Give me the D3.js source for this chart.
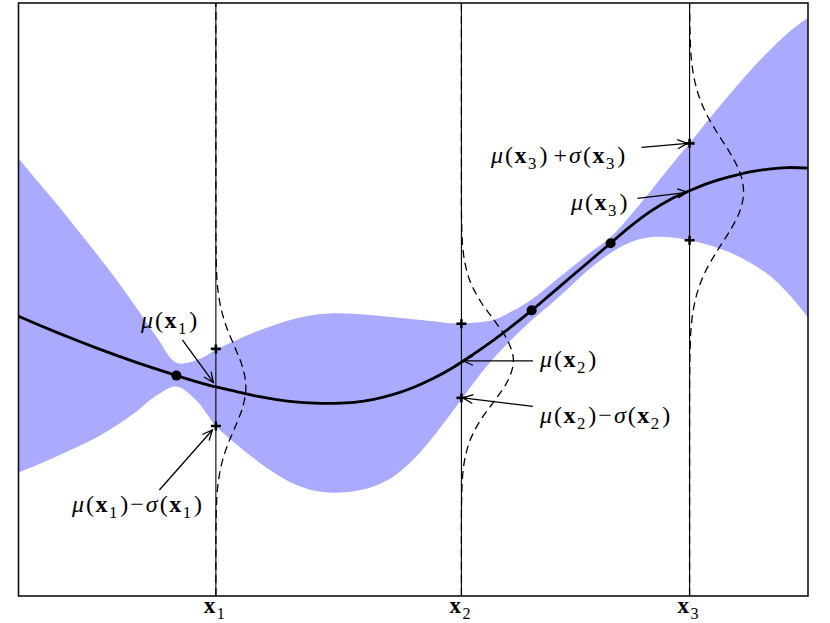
<!DOCTYPE html>
<meta charset="utf-8">
<style>
body{ margin:0; background:#fff; }
text{ font-family: "Liberation Serif", "DejaVu Serif", serif; }
</style>
<body>
<div id="chart"></div>
<script src="https://d3js.org/d3.v7.min.js" charset="utf-8"></script>
<script>
// GP posterior: mean, +/- one sigma band, three query points with their predictive densities

var width = 830, height = 623;
var frame = {left: 18.5, top: 3, right: 808, bottom: 596};

// sample grid (x) and the curves
var gridX = [0,0.25,0.5,0.75,1,1.25,1.5,1.75,2,2.25,2.5,2.75,3,3.25,3.5,3.75,4,4.25,4.5,4.75,5,
             5.25,5.5,5.75,6,6.25,6.5,6.75,7,7.25,7.5,7.75,8,8.25,8.5,8.75,9,9.25,9.5,9.75,10];
var meanY  = [2.83,2.745,2.662,2.582,2.505,2.432,2.362,2.295,2.23,2.17,2.115,2.07,2.025,1.99,1.965,1.952,1.95,1.96,1.99,2.04,2.11,
              2.20,2.31,2.44,2.58,2.73,2.89,3.06,3.23,3.40,3.57,3.74,3.89,4.01,4.10,4.18,4.24,4.29,4.32,4.335,4.33];
var upperY = [4.43,4.19,3.95,3.70,3.45,3.19,2.91,2.62,2.36,2.385,2.49,2.585,2.67,2.745,2.805,2.845,2.86,2.855,2.84,2.82,2.80,
              2.78,2.76,2.765,2.79,2.88,3.00,3.16,3.32,3.48,3.63,3.85,4.09,4.34,4.58,4.83,5.07,5.30,5.51,5.70,5.85];
var lowerY = [1.25,1.33,1.42,1.51,1.61,1.73,1.87,2.03,2.12,1.98,1.72,1.54,1.38,1.24,1.13,1.065,1.045,1.06,1.11,1.21,1.38,
              1.61,1.87,2.14,2.39,2.60,2.79,2.96,3.14,3.32,3.47,3.58,3.63,3.63,3.60,3.55,3.48,3.38,3.25,3.06,2.82];

// observed points
var obsX = [2.0, 6.5, 7.5];
var obsY = [2.23, 2.89, 3.57];

// query points x1, x2, x3
var queryX     = [2.5, 5.61, 8.5];
var queryMean  = [2.11, 2.38, 4.09];
var querySigma = [0.39, 0.375, 0.49];
var queryNames = ["1", "2", "3"];

// dashed densities: horizontal offset at (mean + dy)
var densityDy = [-2.0,-1.8,-1.6,-1.4,-1.2,-1.0,-0.8,-0.6,-0.4,-0.2,0,0.2,0.4,0.6,0.8,1.0,1.2,1.4,1.6,1.8,2.0];
var density1 = [0,0,0,0.002,0.007,0.024,0.065,0.140,0.244,0.340,0.380,0.340,0.244,0.140,0.065,0.024,0.007,0.002,0,0,0];
var density2 = [0,0,0,0.003,0.012,0.042,0.112,0.243,0.424,0.589,0.659,0.589,0.424,0.243,0.112,0.042,0.012,0.003,0,0,0];
var density3 = [0,0.002,0.006,0.017,0.046,0.105,0.205,0.348,0.507,0.635,0.684,0.635,0.507,0.348,0.205,0.105,0.046,0.017,0.006,0.002,0];
var densities = [density1, density2, density3];

var x = d3.scaleLinear().domain([0, 10]).range([frame.left, frame.right]);
var y = d3.scaleLinear().domain([0, 6]).range([frame.bottom, frame.top]);

var svg = d3.select("#chart").append("svg")
	.attr("width", width).attr("height", height);

var defs = svg.append("defs");
defs.append("clipPath").attr("id", "clip")
	.append("rect")
	.attr("x", frame.left).attr("y", frame.top)
	.attr("width", frame.right - frame.left).attr("height", frame.bottom - frame.top);
defs.append("marker")
	.attr("id", "arrow")
	.attr("markerUnits", "userSpaceOnUse")
	.attr("viewBox", "-12 -7 14 14")
	.attr("markerWidth", 14).attr("markerHeight", 14)
	.attr("refX", 0).attr("refY", 0)
	.attr("orient", "auto")
	.append("path")
	.attr("d", "M-10,-4.5L0,0L-10,4.5")
	.attr("fill", "none").attr("stroke", "#000").attr("stroke-width", 1.3);

var plot = svg.append("g").attr("clip-path", "url(#clip)");

var rows = gridX.map(function(d, i){ return {x: d, m: meanY[i], lo: lowerY[i], hi: upperY[i]}; });

// band
plot.append("path")
	.datum(rows)
	.attr("fill", "#aaaaff")
	.attr("d", d3.area()
		.x(function(d){ return x(d.x); })
		.y0(function(d){ return y(d.lo); })
		.y1(function(d){ return y(d.hi); })
		.curve(d3.curveCatmullRom.alpha(0.5)));

// vertical lines at query points
plot.selectAll(".vline")
	.data(queryX).enter().append("line")
	.attr("class", "vline")
	.attr("x1", function(d){ return x(d); }).attr("x2", function(d){ return x(d); })
	.attr("y1", y(6)).attr("y2", y(0))
	.attr("stroke", "#000").attr("stroke-width", 1.1);

// dashed predictive densities
queryX.forEach(function(qx, k){
	var pts = densityDy.map(function(dy, i){ return [qx + densities[k][i], queryMean[k] + dy]; });
	pts.unshift([qx, 0]);
	pts.push([qx, 6]);
	pts = pts.filter(function(p, i){ return i == 0 || i == pts.length - 1 || (p[1] > 0 && p[1] < 6); });
	plot.append("path")
		.datum(pts)
		.attr("fill", "none")
		.attr("stroke", "#000")
		.attr("stroke-width", 1.3)
		.attr("stroke-dasharray", "8,5")
		.attr("d", d3.line()
			.x(function(d){ return x(d[0]); })
			.y(function(d){ return y(d[1]); })
			.curve(d3.curveMonotoneY));
});

// mean
plot.append("path")
	.datum(rows)
	.attr("fill", "none")
	.attr("stroke", "#000")
	.attr("stroke-width", 2.8)
	.attr("d", d3.line()
		.x(function(d){ return x(d.x); })
		.y(function(d){ return y(d.m); })
		.curve(d3.curveCatmullRom.alpha(0.5)));

// observations
plot.selectAll(".obs")
	.data(obsX).enter().append("circle")
	.attr("class", "obs")
	.attr("cx", function(d){ return x(d); })
	.attr("cy", function(d, i){ return y(obsY[i]); })
	.attr("r", 5)
	.attr("fill", "#000");

// +/- sigma crosses
var crosses = [];
queryX.forEach(function(qx, k){
	crosses.push([qx, queryMean[k] + querySigma[k]]);
	crosses.push([qx, queryMean[k] - querySigma[k]]);
});
var cg = plot.selectAll(".cross")
	.data(crosses).enter().append("g")
	.attr("class", "cross")
	.attr("transform", function(d){ return "translate(" + x(d[0]) + "," + y(d[1]) + ")"; });
cg.append("line").attr("x1", -5).attr("x2", 5).attr("y1", 0).attr("y2", 0)
	.attr("stroke", "#000").attr("stroke-width", 2.6);
cg.append("line").attr("x1", 0).attr("x2", 0).attr("y1", -4.5).attr("y2", 4.5)
	.attr("stroke", "#000").attr("stroke-width", 2.6);

// math text helper: parts of [string, kind, dx] kind: i italic, r roman, b bold, s subscript
function mathText(sel, parts, size){
	var t = sel.append("text").attr("font-size", size);
	var shifted = false;
	parts.forEach(function(p){
		var ts = t.append("tspan").text(p[0]);
		if(p[1] == "i") ts.attr("font-style", "italic");
		if(p[1] == "b") ts.attr("font-weight", "bold");
		if(p[1] == "s"){
			ts.attr("font-size", size * 0.7).attr("dy", size * 0.24);
			shifted = true;
		} else if(shifted){
			ts.attr("dy", -size * 0.24);
			shifted = false;
		}
		if(p[2]) ts.attr("dx", p[2]);
	});
	return t;
}

function mu(n){ return [["μ","i"],["(","r",2],["x","b",1.5],[n,"s",1.5],[")","r",3]]; }
function sg(n){ return [["σ","i",2],["(","r",2],["x","b",1.5],[n,"s",1.5],[")","r",3]]; }

// annotations: target, arrow tail/tip and text offsets in pixels from the target
var notes = [
	{k:0, s:0,  parts: mu("1"), tail:[-33.5,-47.5], tip:[-2.5,-5], text:[-75,-59.5]},
	{k:0, s:-1, parts: mu("1").concat([["−","r",2]], sg("1")), tail:[-56.5,64], tip:[-3.5,4], text:[-144,86]},
	{k:1, s:0,  parts: mu("2"), tail:[71.5,0], tip:[1.5,0], text:[78.5,6.5]},
	{k:1, s:-1, parts: mu("2").concat([["−","r",2]], sg("2")), tail:[71.5,8.5], tip:[1.5,0], text:[78.5,25]},
	{k:2, s:1,  parts: mu("3").concat([["+","r",6]], sg("3")), tail:[-48,4], tip:[-2,0], text:[-198.5,19.5]},
	{k:2, s:0,  parts: mu("3"), tail:[-52,6.5], tip:[-2,0.5], text:[-118.5,18]}
];

var ann = svg.append("g").attr("class", "annotations");
notes.forEach(function(n){
	var tx = x(queryX[n.k]);
	var ty = y(queryMean[n.k] + n.s * querySigma[n.k]);
	ann.append("line")
		.attr("x1", tx + n.tail[0]).attr("y1", ty + n.tail[1])
		.attr("x2", tx + n.tip[0]).attr("y2", ty + n.tip[1])
		.attr("stroke", "#000").attr("stroke-width", 1.3)
		.attr("marker-end", "url(#arrow)");
	mathText(ann, n.parts, 24)
		.attr("x", tx + n.text[0]).attr("y", ty + n.text[1]);
});

// axis labels under the query lines
queryX.forEach(function(qx, k){
	mathText(svg, [["x","b"],[queryNames[k],"s",1.5]], 23)
		.attr("x", x(qx) - 1.5).attr("y", 613)
		.attr("text-anchor", "middle");
});

// frame
svg.append("rect")
	.attr("x", frame.left).attr("y", frame.top)
	.attr("width", frame.right - frame.left).attr("height", frame.bottom - frame.top)
	.attr("fill", "none").attr("stroke", "#111").attr("stroke-width", 1.6);
</script>
</body>
